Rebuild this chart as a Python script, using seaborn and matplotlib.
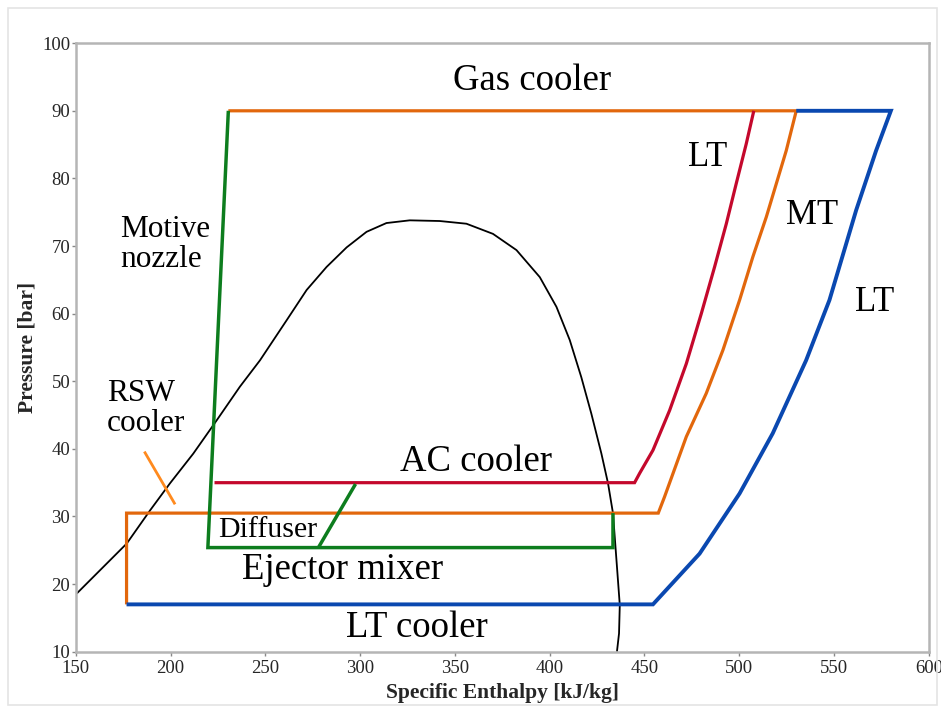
import numpy as np
import pandas as pd
import matplotlib
matplotlib.use("Agg")
import matplotlib.pyplot as plt
from matplotlib.patches import Rectangle
import seaborn as sns

# saturation dome (CO2)
dome_h = [150.5, 176.9, 189.2, 199.7, 212.0, 224.3, 236.6, 247.2, 261.2, 271.8,
          282.3, 292.9, 303.4, 313.9, 326.2, 342.0, 356.1, 370.1, 382.5, 394.8,
          403.6, 410.6, 416.7, 422.0, 427.3, 430.8, 433.4, 435.5, 437.0, 436.6,
          435.5]
dome_p = [18.6, 26.0, 30.9, 34.9, 39.3, 44.2, 49.2, 53.1, 59.0, 63.5,
          66.9, 69.8, 72.1, 73.4, 73.8, 73.7, 73.3, 71.8, 69.4, 65.4,
          61.0, 56.1, 50.6, 45.2, 39.3, 34.9, 30.5, 22.6, 16.9, 12.7,
          10.0]

# MT / gas cooler / RSW cooler loop (orange)
mt_h = [230.5, 530.1, 524.8, 514.3, 507.2, 500.2, 491.4, 482.6, 472.1, 460.6,
        457.3, 176.8, 176.8]
mt_p = [90.0, 90.0, 84.1, 74.3, 68.4, 62.0, 54.6, 48.2, 41.8, 32.9,
        30.5, 30.5, 17.0]

# LT compressor line (blue)
lt_h = [176.8, 454.5, 479.1, 500.2, 517.7, 535.3, 547.6, 561.7, 572.2, 580.0, 530.1]
lt_p = [17.0, 17.0, 24.5, 33.4, 42.3, 53.1, 62.0, 75.3, 84.1, 90.0, 90.0]

# AC cooler line (red)
ac_h = [223.2, 444.8, 447.5, 454.5, 463.3, 472.1, 480.0, 487.0, 493.2, 498.4,
        503.7, 507.7]
ac_p = [35.0, 35.0, 36.4, 39.8, 45.7, 52.6, 60.0, 66.9, 73.3, 79.2,
        85.1, 90.0]

# ejector (green)
ej_h = [433.4, 433.4, 219.7, 230.5]
ej_p = [30.5, 25.4, 25.4, 90.0]
diff_h = [278.0, 297.6]
diff_p = [25.4, 34.8]

# RSW cooler marker
rsw_h = [186.2, 202.4]
rsw_p = [39.6, 31.8]

labels = [
    ("Gas cooler", 390.5, 94.5, 26.5, "center"),
    ("LT", 483.2, 83.1, 25, "center"),
    ("MT", 538.4, 74.5, 25, "center"),
    ("LT", 571.3, 61.7, 25, "center"),
    ("Motive\nnozzle", 173.5, 70.2, 22.5, "left"),
    ("RSW\ncooler", 166.4, 46.0, 22.5, "left"),
    ("AC cooler", 361.4, 38.1, 26.5, "center"),
    ("Diffuser", 251.1, 28.0, 21.5, "center"),
    ("Ejector mixer", 291.0, 22.1, 26.5, "center"),
    ("LT cooler", 329.8, 13.5, 26.5, "center"),
]

ORANGE = "#e2670c"
BLUE = "#0a48b0"
RED = "#c4082c"
GREEN = "#0d7d1e"

sns.set_theme(style="white")
plt.rcParams["font.family"] = ["Liberation Serif", "DejaVu Serif"]

fig = plt.figure(figsize=(9.41, 7.08), dpi=100)
ax = fig.add_axes([0.0805, 0.0795, 0.9065, 0.8595])


def draw(h, p, color, lw):
    df = pd.DataFrame({"h": h, "p": p})
    sns.lineplot(data=df, x="h", y="p", sort=False, estimator=None,
                 color=color, lw=lw, ax=ax, solid_joinstyle="miter",
                 solid_capstyle="butt")


draw(dome_h, dome_p, "black", 1.3)
draw(mt_h, mt_p, ORANGE, 2.3)
draw(lt_h, lt_p, BLUE, 2.8)
draw(ac_h, ac_p, RED, 2.3)
draw(ej_h, ej_p, GREEN, 2.5)
draw(diff_h, diff_p, GREEN, 2.5)
draw(rsw_h, rsw_p, "#ff8a1e", 2.0)

for txt, x, y, fs, ha in labels:
    ax.text(x, y, txt, fontsize=fs, ha=ha, va="center", linespacing=1.02,
            color="black")

ax.set_xlim(150, 600)
ax.set_ylim(10, 100)
ax.set_xticks(np.arange(150, 601, 50))
ax.set_yticks(np.arange(10, 101, 10))
ax.set_xlabel("Specific Enthalpy [kJ/kg]", fontsize=15.5, fontweight="bold",
              labelpad=4)
ax.set_ylabel("Pressure [bar]", fontsize=15.5, fontweight="bold", labelpad=3)
ax.tick_params(axis="both", labelsize=13.5, length=3, width=1, color="#888888",
               direction="out", bottom=True, left=True)
ax.tick_params(axis="x", pad=3)
ax.tick_params(axis="y", pad=1)
for side, sp in ax.spines.items():
    sp.set_color("#b5b5b5")
    sp.set_linewidth(1.8)

# faint frame around the picture
fig.add_artist(Rectangle((0.009, 0.004), 0.987, 0.984, transform=fig.transFigure,
                         fill=False, ec="#e4e4e4", lw=1.2))

fig.savefig("out.png", dpi=100)
